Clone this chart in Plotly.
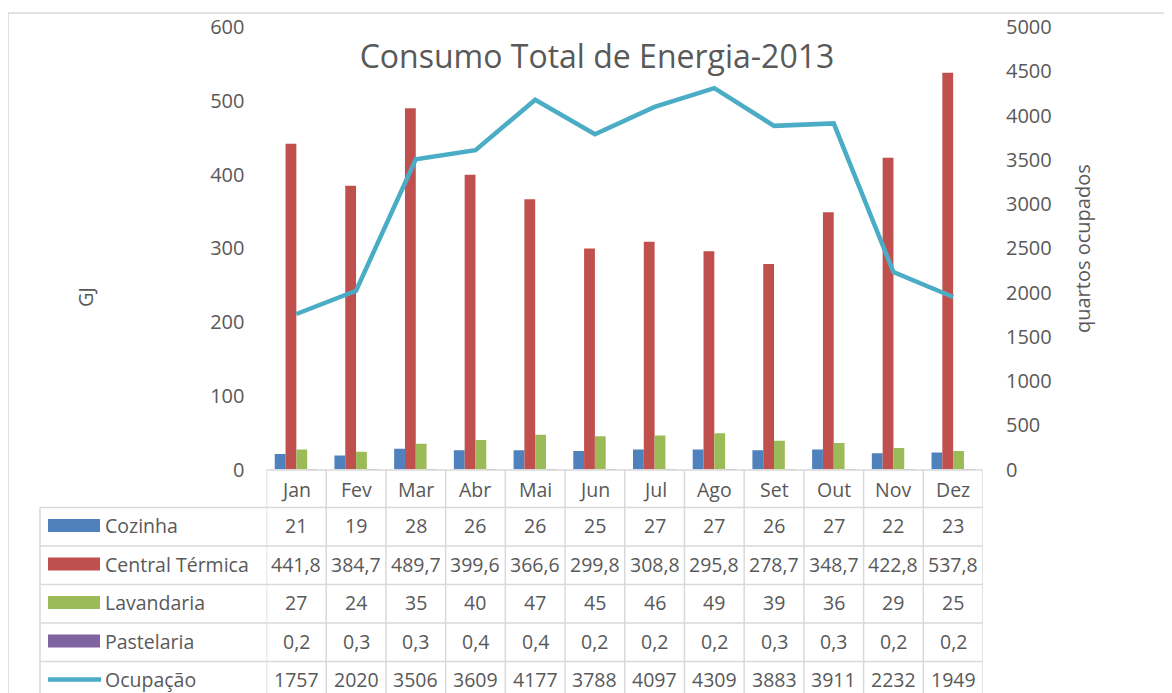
import plotly.graph_objects as go

W, H = 1172, 693
OX, OY = 8, 8  # page body offset

months = ["Jan", "Fev", "Mar", "Abr", "Mai", "Jun", "Jul", "Ago", "Set", "Out", "Nov", "Dez"]
cozinha = [21, 19, 28, 26, 26, 25, 27, 27, 26, 27, 22, 23]
central_termica = [441.8, 384.7, 489.7, 399.6, 366.6, 299.8, 308.8, 295.8, 278.7, 348.7, 422.8, 537.8]
lavandaria = [27, 24, 35, 40, 47, 45, 46, 49, 39, 36, 29, 25]
pastelaria = [0.2, 0.3, 0.3, 0.4, 0.4, 0.2, 0.2, 0.2, 0.3, 0.3, 0.2, 0.2]
ocupacao = [1757, 2020, 3506, 3609, 4177, 3788, 4097, 4309, 3883, 3911, 2232, 1949]

title_text = "Consumo Total de Energia-2013"
left_title = "GJ"
right_title = "quartos ocupados"

C_BLUE, C_RED, C_GREEN, C_PURPLE, C_LINE = "#4F81BD", "#C0504D", "#9BBB59", "#8064A2", "#4BACC6"
TXT = "#595959"
GRID = "#D9D9D9"
FONT = "Open Sans"
TFS = 19.5  # table font size

def px(x):
    return (x - OX) / W

def py(y):
    return 1 - (y - OY) / H

def fmt(v, dec):
    if dec == 0:
        return str(int(v))
    return f"{v:.{dec}f}".replace(".", ",")

series = [
    ("Cozinha", cozinha, C_BLUE, 0, "bar"),
    ("Central Térmica", central_termica, C_RED, 1, "bar"),
    ("Lavandaria", lavandaria, C_GREEN, 0, "bar"),
    ("Pastelaria", pastelaria, C_PURPLE, 1, "bar"),
    ("Ocupação", ocupacao, C_LINE, 0, "line"),
]

fig = go.Figure()
for name, vals, col, dec, kind in series:
    if kind == "bar":
        fig.add_trace(go.Bar(x=months, y=vals, name=name, marker=dict(color=col, line=dict(width=0)),
                             yaxis="y"))
    else:
        fig.add_trace(go.Scatter(x=months, y=vals, name=name, mode="lines",
                                 line=dict(color=col, width=4.5), yaxis="y2"))

x_left, x_right = 266.5, 983.0
y_bottom, y_top = 469.5, 27.0

shapes = []
annotations = []

# chart border (cropped)
shapes.append(dict(type="line", xref="paper", yref="paper", x0=px(8), x1=1.0, y0=py(13), y1=py(13),
                   line=dict(color=GRID, width=1.5)))
shapes.append(dict(type="line", xref="paper", yref="paper", x0=px(8), x1=px(8), y0=py(13), y1=0,
                   line=dict(color=GRID, width=1.5)))

# data table
row_lines = [470, 507.5, 546, 584.5, 623, 661.5, 700]
label_left = 40
shapes.append(dict(type="line", xref="paper", yref="paper", x0=px(x_left), x1=px(x_right),
                   y0=py(row_lines[0]), y1=py(row_lines[0]), line=dict(color=GRID, width=1.5)))
for yl in row_lines[1:]:
    shapes.append(dict(type="line", xref="paper", yref="paper", x0=px(label_left), x1=px(x_right),
                       y0=py(yl), y1=py(yl), line=dict(color=GRID, width=1.5)))
for i in range(len(months) + 1):
    shapes.append(dict(type="line", xref="x", yref="paper", x0=i - 0.5, x1=i - 0.5,
                       y0=py(row_lines[0]), y1=0, line=dict(color=GRID, width=1.5)))
shapes.append(dict(type="line", xref="paper", yref="paper", x0=px(label_left), x1=px(label_left),
                   y0=py(row_lines[1]), y1=0, line=dict(color=GRID, width=1.5)))

for m in months:
    annotations.append(dict(x=m, xref="x", y=py(489), yref="paper", text=m, showarrow=False,
                            font=dict(family=FONT, size=TFS, color=TXT), xanchor="center", yanchor="middle"))

row_centers = [525.5, 564, 602.5, 641, 679.5]
for (name, vals, col, dec, kind), yc in zip(series, row_centers):
    if kind == "bar":
        shapes.append(dict(type="rect", xref="paper", yref="paper", x0=px(48), x1=px(100),
                           y0=py(yc - 6.5), y1=py(yc + 6.5), line=dict(width=0), fillcolor=col))
    else:
        shapes.append(dict(type="line", xref="paper", yref="paper", x0=px(48), x1=px(101),
                           y0=py(yc), y1=py(yc), line=dict(color=col, width=4.5)))
    annotations.append(dict(x=px(103), xref="paper", y=py(yc), yref="paper", text=name, showarrow=False,
                            font=dict(family=FONT, size=TFS, color=TXT), xanchor="left", yanchor="middle"))
    for m, v in zip(months, vals):
        annotations.append(dict(x=m, xref="x", y=py(yc), yref="paper", text=fmt(v, dec), showarrow=False,
                                font=dict(family=FONT, size=TFS, color=TXT), xanchor="center", yanchor="middle"))

annotations.append(dict(x=px(85), xref="paper", y=py(297), yref="paper", text=left_title, textangle=-90,
                        xanchor="center", yanchor="middle",
                        showarrow=False, font=dict(family=FONT, size=20, color=TXT)))
annotations.append(dict(x=px(1083), xref="paper", y=py(249), yref="paper", text=right_title, textangle=-90,
                        xanchor="center", yanchor="middle",
                        showarrow=False, font=dict(family=FONT, size=20, color=TXT)))

fig.update_layout(
    width=W, height=H, autosize=False,
    margin=dict(l=0, r=0, t=0, b=0),
    paper_bgcolor="white", plot_bgcolor="white",
    showlegend=False,
    barmode="group", bargap=0.276, bargroupgap=0,
    title=dict(text=title_text, x=px(597), xanchor="center", y=py(57), yanchor="middle",
               xref="paper", yref="paper", font=dict(family=FONT, size=32, color=TXT)),
    xaxis=dict(type="category", domain=[px(x_left), px(x_right)], range=[-0.5, 11.5],
               showticklabels=False, showgrid=False, zeroline=False, showline=False, ticks=""),
    yaxis=dict(range=[0, 600], dtick=100, domain=[py(y_bottom), py(y_top)], showgrid=False,
               zeroline=False, showline=False, ticks="", ticklabelstandoff=21,
               tickfont=dict(family=FONT, size=20, color=TXT), automargin=False),
    yaxis2=dict(range=[0, 5000], dtick=500, overlaying="y", side="right", showgrid=False,
                zeroline=False, showline=False, ticks="", ticklabelstandoff=22,
                tickfont=dict(family=FONT, size=20, color=TXT), automargin=False),
    shapes=shapes,
    annotations=annotations,
    font=dict(family=FONT, color=TXT),
)

fig.write_html("out.html")
